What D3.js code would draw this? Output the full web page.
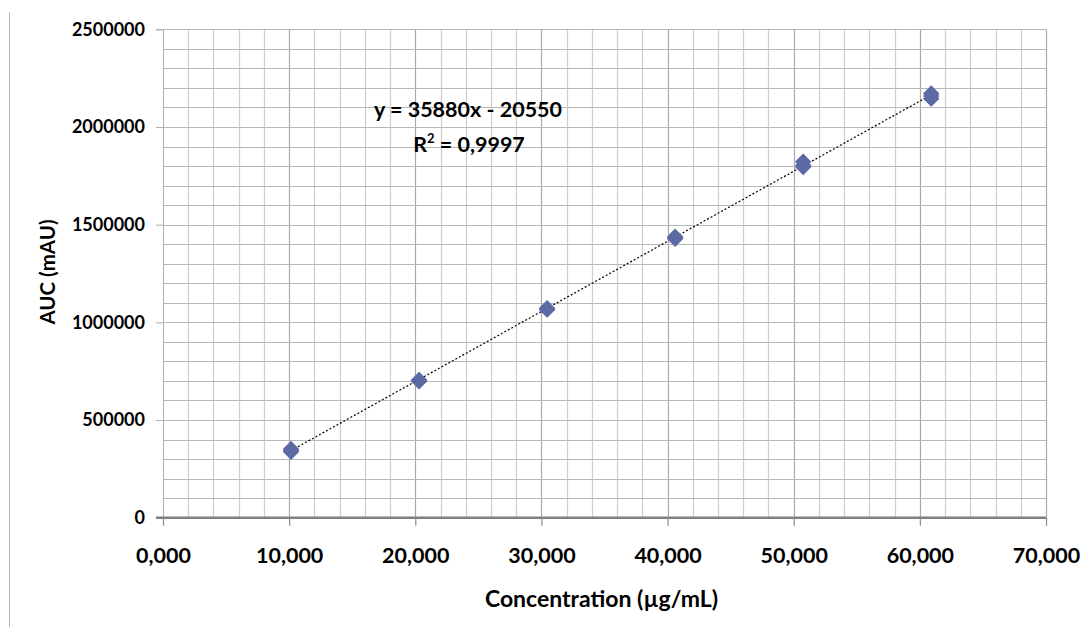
<!DOCTYPE html>
<html>
<head>
<meta charset="utf-8">
<script src="https://cdn.jsdelivr.net/npm/d3@7"></script>
<style>
  html, body { margin: 0; padding: 0; background: #fff; }
  svg { display: block; }
  text { font-family: Lato, "Open Sans", sans-serif; font-weight: bold; fill: #000; }
</style>
</head>
<body>
<svg id="chart" width="1082" height="627"></svg>
<script>
// ---- data ----
const concentrations = [10.15, 20.3, 30.45, 40.6, 50.75, 60.9]; // shown as 10,000 ... on the axis
const replicate1 = [352000, 702000, 1065000, 1428000, 1822000, 2172000];
const replicate2 = [338000, 698000, 1072000, 1438000, 1795000, 2145000];
const replicate3 = [345000, 705000, 1068000, 1433000, 1803000, 2158000];
const xTickValues = [0, 10, 20, 30, 40, 50, 60, 70];
const xTickLabels = ["0,000", "10,000", "20,000", "30,000", "40,000", "50,000", "60,000", "70,000"];
const yTickValues = [0, 500000, 1000000, 1500000, 2000000, 2500000];
const yTickLabels = ["0", "500000", "1000000", "1500000", "2000000", "2500000"];
const slope = 35880, intercept = -20550;
const equationText = "y = 35880x - 20550";
const r2Text = "0,9997";
const xTitle = "Concentration (µg/mL)";
const yTitle = "AUC (mAU)";

(function () {
  const svg = d3.select("#chart");
  const pL = 163, pR = 1046, pT = 29.3, pB = 517.7;
  const x = d3.scaleLinear().domain([0, 70]).range([pL, pR]);
  const y = d3.scaleLinear().domain([0, 2500000]).range([pB, pT]);

  // chart frame left border
  svg.append("line").attr("x1", 9.5).attr("x2", 9.5).attr("y1", 12).attr("y2", 627)
    .attr("stroke", "#b8b8b8").attr("stroke-width", 1);

  // gridlines
  const g = svg.append("g");
  const xMinor = d3.range(2, 70.001, 2);
  g.selectAll(".vx").data(xMinor).join("line")
    .attr("x1", d => Math.round(x(d)) + 0.5).attr("x2", d => Math.round(x(d)) + 0.5)
    .attr("y1", pT).attr("y2", pB)
    .attr("stroke", d => (Math.abs(d % 10) < 1e-6) ? "#a9a9a9" : "#cdcdcd")
    .attr("stroke-width", 1.2);
  const yMinor = d3.range(100000, 2500001, 100000);
  g.selectAll(".hy").data(yMinor).join("line")
    .attr("x1", pL).attr("x2", pR)
    .attr("y1", d => Math.round(y(d)) + 0.5).attr("y2", d => Math.round(y(d)) + 0.5)
    .attr("stroke", "#b4b8b8").attr("stroke-width", 1);

  // y axis
  const yAxis = d3.axisLeft(y).tickValues(yTickValues).tickSize(7).tickPadding(11)
    .tickFormat((d, i) => yTickLabels[i]);
  const ya = svg.append("g").attr("transform", `translate(${pL},0)`).call(yAxis);
  ya.select(".domain").attr("stroke", "#b0b0b0");
  ya.selectAll(".tick line").attr("stroke", "#b0b0b0");
  ya.selectAll("text").style("font-size", "18px").attr("fill", "#000");

  // x axis
  const xAxis = d3.axisBottom(x).tickValues(xTickValues).tickSize(8).tickPadding(22)
    .tickFormat((d, i) => xTickLabels[i]);
  const xa = svg.append("g").attr("transform", `translate(0,${pB})`).call(xAxis);
  xa.select(".domain").attr("stroke", "#7f7f7f").attr("stroke-width", 2.5)
    .attr("d", `M${pL - 7},0H${pR}`);
  xa.selectAll(".tick line").attr("stroke", "#8a8a8a").attr("stroke-width", 1.2);
  xa.selectAll("text").style("font-size", "21.5px").attr("fill", "#000");

  // trendline (dotted)
  const x0 = concentrations[0], x1 = concentrations[concentrations.length - 1];
  svg.append("line")
    .attr("x1", x(x0)).attr("y1", y(slope * x0 + intercept))
    .attr("x2", x(x1)).attr("y2", y(slope * x1 + intercept))
    .attr("stroke", "#000").attr("stroke-width", 1.2).attr("stroke-dasharray", "2,2");

  // markers
  const pts = [];
  [replicate1, replicate2, replicate3].forEach(rep => rep.forEach((v, i) => pts.push([concentrations[i], v])));
  svg.append("g").selectAll("path").data(pts).join("path")
    .attr("d", d3.symbol().type(d3.symbolSquare).size(135))
    .attr("transform", d => `translate(${x(d[0])},${y(d[1])}) rotate(45)`)
    .attr("fill", "#5c6aa4");

  // equation
  svg.append("text").attr("x", 468).attr("y", 117).attr("text-anchor", "middle")
    .style("font-size", "21.5px").text(equationText);
  const r2 = svg.append("text").attr("x", 469).attr("y", 152).attr("text-anchor", "middle")
    .style("font-size", "21.5px");
  r2.append("tspan").text("R");
  r2.append("tspan").attr("dy", -9).style("font-size", "13px").text("2");
  r2.append("tspan").attr("dy", 9).text(" = " + r2Text);

  // axis titles
  svg.append("text").attr("x", 601.5).attr("y", 607).attr("text-anchor", "middle")
    .style("font-size", "23px").text(xTitle);
  svg.append("text").attr("transform", "translate(55,272) rotate(-90)")
    .attr("text-anchor", "middle").style("font-size", "20.5px").text(yTitle);
})();
</script>
</body>
</html>
